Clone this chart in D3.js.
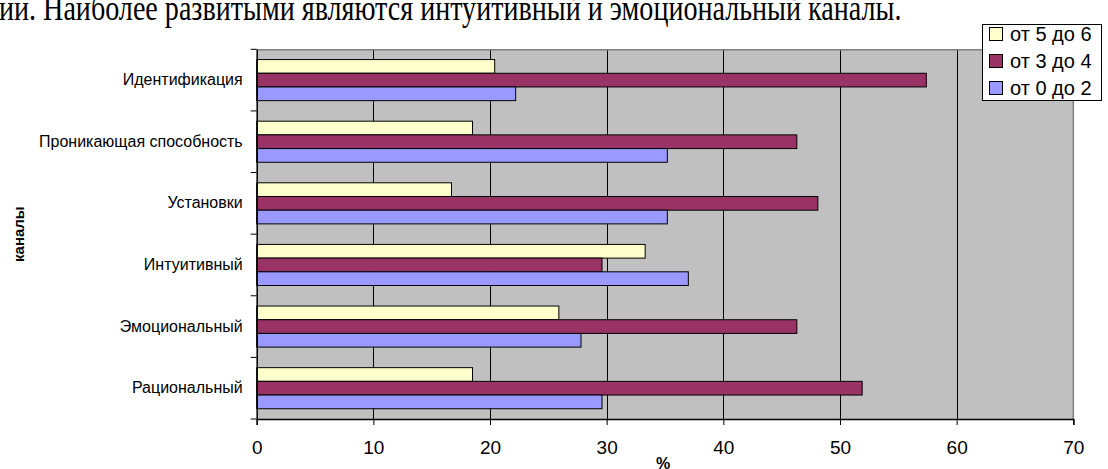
<!DOCTYPE html>
<html>
<head>
<meta charset="utf-8">
<script src="https://cdn.jsdelivr.net/npm/d3@7"></script>
<style>
  html, body { margin: 0; padding: 0; background: #fff; }
  svg { display: block; }
</style>
</head>
<body>
<svg id="chart" width="1108" height="469"></svg>
<script>
// Каналы восприятия (категории сверху вниз)
const categories = [
  "Идентификация",
  "Проникающая способность",
  "Установки",
  "Интуитивный",
  "Эмоциональный",
  "Рациональный"
];

// Доля респондентов, %, по уровням развития канала
const seriesNames = ["от 5 до 6", "от 3 до 4", "от 0 до 2"];
const high   = [20.4, 18.5, 16.7, 33.3, 25.9, 18.5]; // от 5 до 6
const middle = [57.4, 46.3, 48.1, 29.6, 46.3, 51.9]; // от 3 до 4
const low    = [22.2, 35.2, 35.2, 37.0, 27.8, 29.6]; // от 0 до 2
const seriesValues = [high, middle, low];
const seriesColors = ["#FFFFCC", "#993366", "#9999FF"];

const xTicks = [0, 10, 20, 30, 40, 50, 60, 70];

const svg = d3.select("#chart");
const plot = { left: 256.7, right: 1073.3, top: 49.3, bottom: 419 };

// Строка текста документа над диаграммой
svg.append("text")
  .attr("transform", "translate(-1,20) scale(1,1.3)")
  .attr("font-family", "'Liberation Serif', 'Times New Roman', serif")
  .attr("font-size", 28.1)
  .attr("fill", "#000")
  .text("ии. Наиболее развитыми являются интуитивный и эмоциональный каналы.");

const x = d3.scaleLinear().domain([0, 70]).range([plot.left, plot.right]);
const y = d3.scaleBand().domain(categories).range([plot.top, plot.bottom]).padding(0);
const inner = d3.scaleBand().domain(seriesNames).range([0, y.bandwidth()])
  .paddingInner(0).paddingOuter(0.75);

// Фон области построения
svg.append("rect")
  .attr("x", plot.left).attr("y", plot.top)
  .attr("width", plot.right - plot.left).attr("height", plot.bottom - plot.top)
  .attr("fill", "#C0C0C0");

// Вертикальные линии сетки
svg.append("g")
  .selectAll("line")
  .data(xTicks.filter(d => d > 0 && d < 70))
  .join("line")
  .attr("x1", d => Math.round(x(d)) + 0.5).attr("x2", d => Math.round(x(d)) + 0.5)
  .attr("y1", plot.top).attr("y2", plot.bottom)
  .attr("stroke", "#000").attr("stroke-width", 1);

// Рамка области построения (верх и правый край)
svg.append("path")
  .attr("d", `M${plot.left},${plot.top + 0.5}H${plot.right}V${plot.bottom}`)
  .attr("fill", "none").attr("stroke", "#808080").attr("stroke-width", 1.5);

// Полосы
const rows = categories.map((c, i) => ({
  category: c,
  values: seriesNames.map((s, j) => ({ series: s, value: seriesValues[j][i], color: seriesColors[j] }))
}));

svg.append("g")
  .selectAll("g")
  .data(rows)
  .join("g")
  .attr("transform", d => `translate(0,${y(d.category)})`)
  .selectAll("rect")
  .data(d => d.values)
  .join("rect")
  .attr("x", x(0))
  .attr("y", d => inner(d.series))
  .attr("width", d => x(d.value) - x(0))
  .attr("height", inner.bandwidth())
  .attr("fill", d => d.color)
  .attr("stroke", "#000")
  .attr("stroke-width", 1);

// Ось X
const xAxis = svg.append("g")
  .attr("transform", `translate(0,${plot.bottom})`)
  .call(d3.axisBottom(x).tickValues(xTicks).tickSize(6).tickPadding(16));
xAxis.select(".domain").attr("stroke", "#000").attr("stroke-width", 1.5);
xAxis.selectAll(".tick line").attr("stroke", "#000");
xAxis.selectAll("text")
  .attr("font-family", "Arial, 'Liberation Sans', sans-serif")
  .attr("font-size", 19)
  .attr("fill", "#000");

// Ось Y
const yAxis = svg.append("g")
  .attr("transform", `translate(${plot.left},0)`)
  .call(d3.axisLeft(y).tickSize(0).tickPadding(14));
yAxis.select(".domain").attr("stroke", "#000").attr("stroke-width", 1.5);
yAxis.selectAll("text")
  .attr("font-family", "Arial, 'Liberation Sans', sans-serif")
  .attr("font-size", 16)
  .attr("fill", "#000");
// Засечки между группами
yAxis.append("g")
  .selectAll("line")
  .data(categories.map(c => y(c)).concat([plot.bottom]))
  .join("line")
  .attr("x1", -6).attr("x2", 0)
  .attr("y1", d => d).attr("y2", d => d)
  .attr("stroke", "#000");

// Подписи осей
svg.append("text")
  .attr("transform", `translate(24,${(plot.top + plot.bottom) / 2}) rotate(-90)`)
  .attr("text-anchor", "middle")
  .attr("font-family", "Arial, 'Liberation Sans', sans-serif")
  .attr("font-weight", "bold")
  .attr("font-size", 15)
  .text("каналы");

svg.append("text")
  .attr("x", 663).attr("y", 469)
  .attr("text-anchor", "middle")
  .attr("font-family", "Arial, 'Liberation Sans', sans-serif")
  .attr("font-weight", "bold")
  .attr("font-size", 16)
  .text("%");

// Легенда
const legend = svg.append("g").attr("transform", "translate(982,24)");
legend.append("rect")
  .attr("x", 0.5).attr("y", 0.5).attr("width", 119).attr("height", 76)
  .attr("fill", "#fff").attr("stroke", "#000").attr("stroke-width", 1);
const items = legend.selectAll("g.item")
  .data(seriesNames.map((s, j) => ({ name: s, color: seriesColors[j] })))
  .join("g")
  .attr("class", "item")
  .attr("transform", (d, i) => `translate(7,${10 + i * 27})`);
items.append("rect")
  .attr("x", 0.5).attr("y", -6.5).attr("width", 13).attr("height", 13)
  .attr("fill", d => d.color).attr("stroke", "#000");
items.append("text")
  .attr("x", 21).attr("y", 0).attr("dy", "0.35em")
  .attr("font-family", "Arial, 'Liberation Sans', sans-serif")
  .attr("font-size", 20)
  .attr("fill", "#000")
  .text(d => d.name);
</script>
</body>
</html>
